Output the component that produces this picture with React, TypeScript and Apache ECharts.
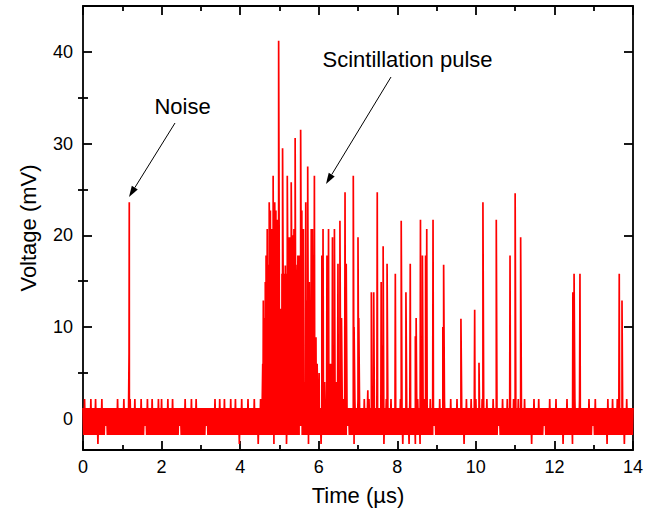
import React, { useEffect, useRef } from 'react';
import * as echarts from 'echarts';

const FONT = '"Liberation Sans", Arial, Helvetica, sans-serif';

// Digitizer levels (mV) used by the baseline noise codes 0..5
const levelMv = [-2.75, -1.77, -0.79, 0.19, 1.17, 2.15];
const noiseStepUs = 0.02;
// Baseline noise, one code per sample (each row = 1 µs)
const noiseRows = [
  '41514141415141415140414151414241414141414141514141',
  '41514141415141415141414151414241514141514141415141',
  '51414141514141514141414241414151414141514141514141',
  '41414142414141414151414151414151414141514141514140',
  '41514141415141414151414041514141415141414140415141',
  '41514141404141514141514141424141514140414141514141',
  '41404151414141415141514141414141514142414141405141',
  '51414141514141514141514141414141404151414151414141',
  '41415140414141405141414041514041515141414151414241',
  '41415141415141414151414141514141414041514141514141',
  '51414141514141514141415141414241415141415141414151',
  '41415141414151414141404151414151414142414141514141',
  '41514141414041415141414041514141514141414141514142',
  '41514141414141414051414151414151414141404151414141',
  '4',
];
// Isolated noise spike near 1.2 µs: [time µs, mV]
const noiseSpikePoints = [
  [1.172, 7.1],
  [1.178, 23.6],
];
// Main scintillation burst: [time µs, mV]
const mainPulsePoints = [
  [4.575, 6.0], [4.59, 12.9], [4.605, 9.9], [4.62, 11.0], [4.64, 14.9],
  [4.66, 17.8], [4.675, 13.8], [4.69, 20.7], [4.705, 16.8], [4.72, 15.8],
  [4.74, 23.6], [4.755, 17.8], [4.77, 22.7], [4.79, 16.8], [4.81, 20.7],
  [4.825, 15.8], [4.84, 26.5], [4.86, 17.8], [4.88, 23.6], [4.895, 16.8],
  [4.91, 22.7], [4.925, 15.8], [4.94, 21.7], [4.96, 13.8], [4.98, 41.2],
  [4.995, 16.8], [5.01, 12.0], [5.03, 10.9], [5.05, 12.0], [5.065, 15.8],
  [5.08, 29.5], [5.095, 14.9], [5.11, 15.8], [5.13, 13.8], [5.15, 16.7],
  [5.175, 15.8], [5.2, 26.5], [5.215, 14.9], [5.23, 19.8], [5.25, 13.8],
  [5.27, 19.8], [5.285, 15.8], [5.3, 25.8], [5.315, 16.8], [5.33, 20.0],
  [5.35, 14.9], [5.37, 20.7], [5.385, 16.8], [5.4, 30.6], [5.42, 11.9],
  [5.44, 12.9], [5.455, 16.8], [5.47, 17.8], [5.485, 15.8], [5.5, 17.8],
  [5.52, 16.8], [5.54, 31.5], [5.555, 15.8], [5.57, 22.7], [5.59, 14.9],
  [5.61, 20.7], [5.64, 4.0], [5.67, 23.6], [5.69, 12.9], [5.72, 27.5],
  [5.74, 11.9], [5.76, 14.9], [5.785, 12.9], [5.81, 20.7], [5.825, 11.9],
  [5.84, 20.7], [5.865, 9.9], [5.89, 26.5], [5.91, 7.1], [5.93, 8.9],
  [5.96, 6.0], [6.01, 5.0], [6.08, 17.8], [6.11, 20.7], [6.15, 4.0],
  [6.21, 17.8], [6.25, 20.7],
];
// Later single photon pulses: [time µs, mV]
const afterPulsePoints = [
  [6.3, 6.0], [6.35, 19.8], [6.4, 20.7], [6.44, 4.0], [6.49, 16.9],
  [6.54, 21.6], [6.58, 11.0], [6.67, 24.7], [6.7, 16.9], [6.88, 26.5],
  [6.9, 10.0], [7.0, 19.8], [7.02, 11.0], [7.25, 3.1], [7.34, 13.8],
  [7.4, 13.8], [7.49, 24.7], [7.59, 14.9], [7.61, 8.0], [7.64, 18.8],
  [7.74, 16.9], [7.95, 15.8], [8.1, 21.6], [8.22, 13.8], [8.33, 16.9],
  [8.46, 9.0], [8.48, 11.0], [8.59, 21.7], [8.64, 17.8], [8.72, 17.8],
  [8.75, 20.7], [8.91, 21.7], [9.16, 10.0], [9.18, 16.8], [9.62, 10.9],
  [9.97, 11.9], [10.08, 6.1], [10.18, 23.6], [10.52, 21.7], [10.87, 17.8],
  [11.0, 24.6], [11.14, 19.8], [12.47, 13.8], [12.5, 15.8], [12.65, 15.8],
  [13.65, 15.8], [13.72, 12.9],
];

const yMajorTicks = [0, 10, 20, 30, 40];
const yMinorTicks = [5, 15, 25, 35];

function buildTrace(): number[][] {
  const codes = noiseRows.join('');
  const pts: number[][] = [];
  for (let i = 0; i < codes.length; i++) {
    pts.push([+(i * noiseStepUs).toFixed(3), levelMv[+codes[i]]]);
  }
  const extra = [...noiseSpikePoints, ...mainPulsePoints, ...afterPulsePoints];
  const all = pts.map((p, k) => ({ p, k, o: 0 })).concat(extra.map((p, k) => ({ p, k, o: 1 })));
  all.sort((a, b) => a.p[0] - b.p[0] || a.o - b.o || a.k - b.k);
  return all.map((e) => e.p);
}

function arrowHead(tip: number[], from: number[], len: number, half: number) {
  const dx = tip[0] - from[0];
  const dy = tip[1] - from[1];
  const d = Math.hypot(dx, dy);
  const ux = dx / d, uy = dy / d;
  const bx = tip[0] - ux * len, by = tip[1] - uy * len;
  return {
    base: [bx, by],
    pts: [tip, [bx + uy * half, by - ux * half], [bx - uy * half, by + ux * half]],
  };
}

export default function App() {
  const ref = useRef<HTMLDivElement>(null);
  useEffect(() => {
    if (!ref.current) return;
    const chart = echarts.init(ref.current, null, { renderer: 'svg' });
    const axisLine = { show: true, onZero: false, lineStyle: { color: '#000', width: 1.8 } };
    const tickStyle = { color: '#000', width: 1.8 };
    const noiseArrow = arrowHead([129, 197], [175, 123], 11, 3.5);
    const pulseArrow = arrowHead([326, 184], [391, 77], 11, 3.5);
    const textStyle = { fontFamily: FONT, fontSize: 22, fill: '#000', align: 'center', verticalAlign: 'middle' };
    chart.setOption({
      animation: false,
      backgroundColor: '#fff',
      grid: { left: 83, right: 35, top: 6, bottom: 63, containLabel: false },
      xAxis: [
        {
          type: 'value', position: 'bottom', min: 0, max: 14, interval: 2,
          axisLine,
          axisTick: { show: true, inside: true, length: 9, lineStyle: tickStyle },
          minorTick: { show: true, splitNumber: 2, length: 5, lineStyle: tickStyle },
          axisLabel: { color: '#000', fontSize: 18, fontFamily: FONT, margin: 8 },
          splitLine: { show: false },
          name: 'Time (µs)', nameLocation: 'middle', nameGap: 34,
          nameTextStyle: { color: '#000', fontSize: 22, fontFamily: FONT },
        },
        {
          type: 'value', position: 'top', min: 0, max: 14, interval: 2,
          axisLine,
          axisTick: { show: true, inside: true, length: 9, lineStyle: tickStyle },
          minorTick: { show: true, splitNumber: 2, length: 5, lineStyle: tickStyle },
          axisLabel: { show: false },
          splitLine: { show: false },
        },
      ],
      yAxis: [
        {
          type: 'value', position: 'left', min: -3.4, max: 45,
          axisLine,
          axisTick: { show: true, inside: true, length: 9, lineStyle: tickStyle, customValues: yMajorTicks },
          axisLabel: { color: '#000', fontSize: 18, fontFamily: FONT, margin: 10, customValues: yMajorTicks },
          splitLine: { show: false },
          name: 'Voltage (mV)', nameLocation: 'middle', nameGap: 44,
          nameTextStyle: { color: '#000', fontSize: 22, fontFamily: FONT },
        },
        {
          type: 'value', position: 'left', min: -3.4, max: 45,
          axisLine: { show: false },
          axisTick: { show: true, inside: true, length: 5, lineStyle: tickStyle, customValues: yMinorTicks },
          axisLabel: { show: false },
          splitLine: { show: false },
        },
        {
          type: 'value', position: 'right', min: -3.4, max: 45,
          axisLine,
          axisTick: { show: true, inside: true, length: 9, lineStyle: tickStyle, customValues: yMajorTicks },
          axisLabel: { show: false },
          splitLine: { show: false },
        },
        {
          type: 'value', position: 'right', min: -3.4, max: 45,
          axisLine: { show: false },
          axisTick: { show: true, inside: true, length: 5, lineStyle: tickStyle, customValues: yMinorTicks },
          axisLabel: { show: false },
          splitLine: { show: false },
        },
      ],
      series: [
        {
          type: 'line',
          xAxisIndex: 0,
          yAxisIndex: 0,
          data: buildTrace(),
          showSymbol: false,
          symbol: 'none',
          lineStyle: { color: '#ff0000', width: 1.7 },
          z: 1,
        },
      ],
      graphic: [
        { type: 'text', x: 182.5, y: 106.5, style: { ...textStyle, text: 'Noise' } },
        { type: 'text', x: 407.5, y: 59.5, style: { ...textStyle, text: 'Scintillation pulse' } },
        {
          type: 'line',
          shape: { x1: 175, y1: 123, x2: noiseArrow.base[0], y2: noiseArrow.base[1] },
          style: { stroke: '#000', lineWidth: 1 },
        },
        { type: 'polygon', shape: { points: noiseArrow.pts }, style: { fill: '#000' } },
        {
          type: 'line',
          shape: { x1: 391, y1: 77, x2: pulseArrow.base[0], y2: pulseArrow.base[1] },
          style: { stroke: '#000', lineWidth: 1 },
        },
        { type: 'polygon', shape: { points: pulseArrow.pts }, style: { fill: '#000' } },
      ],
    });
    return () => chart.dispose();
  }, []);
  return (
    <div
      ref={ref}
      style={{ position: 'fixed', left: 0, top: 0, width: 668, height: 513, background: '#fff' }}
    />
  );
}
